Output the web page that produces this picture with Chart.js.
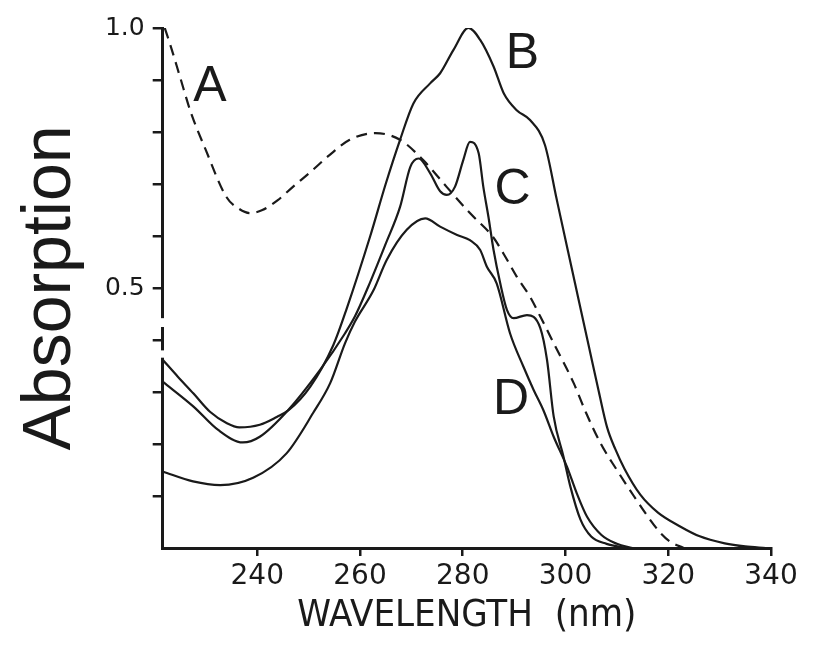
<!DOCTYPE html>
<html>
  <head>
    <script src="https://cdn.jsdelivr.net/npm/chart.js@4/dist/chart.umd.min.js"></script>
    <style>
      body { margin: 0; background: #fff; }
      #wrap { width: 818px; height: 646px; }
    </style>
  </head>
  <body>
    <div id="wrap"><canvas id="canvas"></canvas></div>
    <script>
      // absorption spectra, wavelength in nm
      const waveA = [222, 223, 225, 227, 230, 234, 236.5, 238.6, 241, 244, 247, 250, 254, 258, 263, 267.8, 272.3, 276.9, 281.4, 285.9, 288, 290.5, 293.1, 295.1, 298, 301.6, 304, 306.9, 310, 313.3, 316.2, 318.4, 320.4, 323];
      const absA = [1.0, 0.97, 0.905, 0.84, 0.765, 0.675, 0.652, 0.644, 0.65, 0.669, 0.695, 0.72, 0.755, 0.785, 0.798, 0.785, 0.746, 0.694, 0.644, 0.598, 0.565, 0.522, 0.483, 0.445, 0.388, 0.317, 0.26, 0.2, 0.15, 0.1, 0.058, 0.03, 0.012, 0.0];

      const waveB = [221.6, 224.5, 227.6, 230.8, 234.1, 236.5, 240.5, 243.8, 246.1, 250.3, 254.8, 257.4, 262, 265, 267.8, 270.4, 273.7, 275.6, 278.2, 281.1, 283.4, 286, 288, 290.5, 293.1, 296, 298.3, 300.5, 302.5, 304.5, 306.5, 308.1, 309.7, 311.5, 314.6, 318, 322.4, 326, 331, 335, 339];
      const absB = [0.362, 0.33, 0.297, 0.262, 0.24, 0.232, 0.237, 0.252, 0.265, 0.31, 0.39, 0.46, 0.6, 0.7, 0.785, 0.855, 0.894, 0.913, 0.958, 1.0, 0.977, 0.926, 0.874, 0.842, 0.823, 0.775, 0.67, 0.57, 0.48, 0.39, 0.3, 0.232, 0.19, 0.152, 0.102, 0.068, 0.041, 0.023, 0.009, 0.003, 0.0];

      const waveC = [221.6, 227.6, 232.4, 237.2, 240.5, 246, 252.2, 257.1, 259, 261.5, 265, 267.8, 269.8, 271.4, 273.7, 275.6, 276.9, 278.5, 280.1, 281.4, 283.1, 284, 285, 286, 287.3, 288.6, 289.9, 292.5, 295.1, 296.4, 297.7, 299.6, 300.9, 302.9, 305, 308, 312];
      const absC = [0.32, 0.272, 0.227, 0.203, 0.214, 0.265, 0.342, 0.413, 0.445, 0.5, 0.585, 0.656, 0.733, 0.749, 0.72, 0.686, 0.679, 0.695, 0.746, 0.781, 0.759, 0.695, 0.637, 0.573, 0.509, 0.458, 0.442, 0.448, 0.423, 0.362, 0.253, 0.176, 0.12, 0.055, 0.022, 0.008, 0.0];

      const waveD = [221.6, 227.5, 232.8, 239.2, 245.7, 250.9, 254.2, 257.1, 259, 262.6, 265.2, 269.1, 272.7, 275.6, 278.9, 281.4, 283.4, 284.7, 286.6, 289.2, 291.8, 293.8, 295.7, 297.7, 300.3, 302.2, 304.2, 307, 310, 313];
      const absD = [0.147, 0.128, 0.121, 0.135, 0.182, 0.26, 0.317, 0.394, 0.435, 0.495, 0.554, 0.612, 0.634, 0.618, 0.602, 0.592, 0.573, 0.541, 0.509, 0.413, 0.349, 0.304, 0.265, 0.214, 0.156, 0.105, 0.06, 0.025, 0.008, 0.0];

      const xTicks = [240, 260, 280, 300, 320, 340];
      const yTicks = [0.1, 0.2, 0.3, 0.4, 0.5, 0.6, 0.7, 0.8, 0.9, 1.0];
      const yLabelled = [0.5, 1.0];

      const ink = '#1a1a1a';
      const pts = (w, a) => w.map((v, i) => ({ x: v, y: a[i] }));

      Chart.defaults.font.family = '"DejaVu Sans", sans-serif';
      Chart.defaults.color = ink;

      // letter next to each curve, placed in data units
      const curveLetters = {
        id: 'curveLetters',
        afterDatasetsDraw(chart) {
          const { ctx, scales: { x, y } } = chart;
          ctx.save();
          ctx.font = '50px "Liberation Sans", Arial, sans-serif';
          ctx.fillStyle = ink;
          ctx.textAlign = 'center';
          ctx.textBaseline = 'middle';
          chart.data.datasets.forEach((ds) => {
            ctx.fillText(ds.label, x.getPixelForValue(ds.letterAt[0]), y.getPixelForValue(ds.letterAt[1]));
          });
          ctx.restore();
        },
      };

      // small breaks in the drawn y axis line
      const axisBreaks = {
        id: 'axisBreaks',
        beforeDatasetsDraw(chart) {
          const { ctx, chartArea, scales: { y } } = chart;
          ctx.save();
          ctx.fillStyle = '#fff';
          [[0.425, 0.442], [0.366, 0.38]].forEach(([lo, hi]) => {
            const top = y.getPixelForValue(hi);
            ctx.fillRect(chartArea.left - 3, top, 6, y.getPixelForValue(lo) - top);
          });
          ctx.restore();
        },
      };

      const line = { borderColor: ink, borderWidth: 2.2, pointRadius: 0, fill: false, cubicInterpolationMode: 'monotone' };

      new Chart(document.getElementById('canvas'), {
        type: 'line',
        data: {
          datasets: [
            { ...line, label: 'A', data: pts(waveA, absA), borderDash: [11, 7], letterAt: [230.8, 0.887] },
            { ...line, label: 'B', data: pts(waveB, absB), letterAt: [291.6, 0.949] },
            { ...line, label: 'C', data: pts(waveC, absC), letterAt: [289.7, 0.689] },
            { ...line, label: 'D', data: pts(waveD, absD), letterAt: [289.4, 0.285] },
          ],
        },
        options: {
          responsive: true,
          maintainAspectRatio: false,
          animation: false,
          layout: { padding: { top: 28, right: 47, bottom: 0, left: 0 } },
          plugins: { legend: { display: false }, tooltip: { enabled: false } },
          scales: {
            x: {
              type: 'linear',
              min: 221.6,
              max: 340,
              afterBuildTicks: (s) => { s.ticks = xTicks.map((v) => ({ value: v })); },
              afterFit: (s) => { s.height = 98; },
              grid: { drawOnChartArea: false, tickLength: 8, color: ink, lineWidth: 2.5 },
              border: { color: ink, width: 3 },
              ticks: { color: ink, font: { size: 28 }, padding: 4, autoSkip: false, maxRotation: 0 },
              title: {
                display: true,
                text: 'WAVELENGTH  (nm)',
                color: ink,
                font: { family: '"DejaVu Sans Condensed", "Liberation Sans Narrow", "DejaVu Sans", sans-serif', size: 38, lineHeight: 1 },
                padding: { top: 0, bottom: 11 },
              },
            },
            y: {
              min: 0,
              max: 1,
              afterBuildTicks: (s) => { s.ticks = yTicks.map((v) => ({ value: v })); },
              afterFit: (s) => { s.width = 162.7; },
              grid: { drawOnChartArea: false, tickLength: 10, color: ink, lineWidth: 2.5 },
              border: { color: ink, width: 3 },
              ticks: {
                color: ink,
                font: { size: 25 },
                padding: 8,
                callback: (v) => (yLabelled.includes(v) ? v.toFixed(1) : ''),
              },
              title: {
                display: true,
                text: 'Absorption',
                color: ink,
                font: { family: '"Liberation Sans", Arial, sans-serif', size: 68, lineHeight: 1 },
                padding: { top: 17, bottom: 0 },
              },
            },
          },
        },
        plugins: [axisBreaks, curveLetters],
      });
    </script>
  </body>
</html>
